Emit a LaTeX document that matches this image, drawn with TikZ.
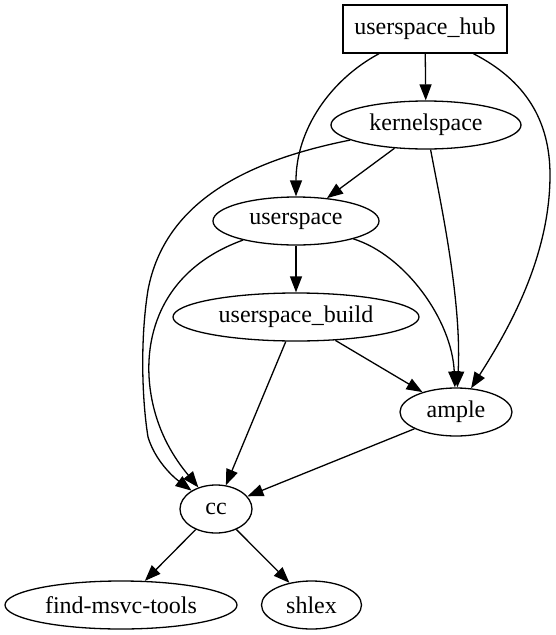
\documentclass[tikz,border=0pt]{standalone}
\usepackage{fontspec}
\setmainfont{Liberation Serif}
\usetikzlibrary{shapes.geometric,arrows.meta}
\begin{document}
\begin{tikzpicture}[x=1pt,y=1pt,
  every node/.style={font=\fontsize{24}{28}\selectfont, inner sep=0pt, line width=1.3pt},
  ell/.style={draw, ellipse, minimum height=48pt},
  boxnode/.style={draw, rectangle, minimum height=48pt, minimum width=164pt},
  edge/.style={draw, line width=1.3pt, -{Triangle[length=16pt,width=12pt]}}]
\useasboundingbox (0,0) rectangle (555,-635);
\node[boxnode] (hub) at (425,-29) {userspace\_hub};
\node[ell, minimum width=190pt] (kernel) at (426,-125) {kernelspace};
\node[ell, minimum width=166pt] (user) at (296,-221) {userspace};
\node[ell, minimum width=246pt] (build) at (296,-317) {userspace\_build};
\node[ell, minimum width=112pt] (ample) at (456,-412) {ample};
\node[ell, minimum width=72pt] (cc) at (216,-509) {cc};
\node[ell, minimum width=232pt] (fmt) at (121,-605) {find-msvc-tools};
\node[ell, minimum width=100pt] (shlex) at (311.5,-605) {shlex};

\draw[edge] (hub) -- (kernel);
\draw[edge] (hub) .. controls (330,-80) and (296,-130) .. (user);
\draw[edge] (hub) .. controls (525,-80) and (550,-120) .. (550,-175)
  .. controls (550,-260) and (505,-335) .. (ample);
\draw[edge] (kernel) -- (user);
\draw[edge] (kernel) .. controls (440,-200) and (462,-300) .. (ample);
\draw[edge] (kernel) .. controls (250,-160) and (165,-200) .. (148,-290)
  .. controls (140,-340) and (142,-400) .. (148,-437)
  .. controls (155,-460) and (172,-476) .. (cc);
\draw[edge] (user) -- (build);
\draw[edge] (user) .. controls (405,-255) and (452,-320) .. (ample);
\draw[edge] (user) .. controls (160,-270) and (140,-340) .. (152,-400)
  .. controls (160,-440) and (180,-465) .. (cc);
\draw[edge] (build) -- (ample);
\draw[edge] (build) -- (cc);
\draw[edge] (ample) -- (cc);
\draw[edge] (cc) -- (fmt);
\draw[edge] (cc) -- (shlex);
\end{tikzpicture}
\end{document}
